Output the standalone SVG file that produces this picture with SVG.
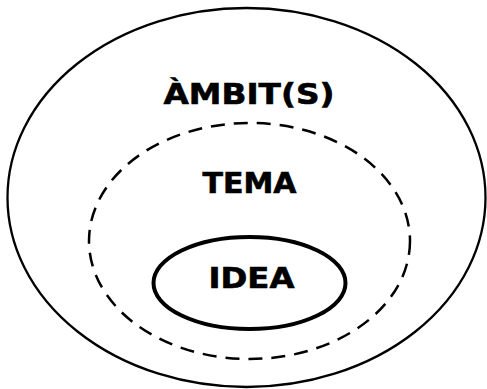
<svg xmlns="http://www.w3.org/2000/svg" width="487" height="389" viewBox="0 0 487 389">
<style>
.e{fill:none;stroke:#000}
.t{font-family:"DejaVu Sans","Verdana",sans-serif;font-weight:bold;font-size:29px;fill:#000;text-anchor:middle;stroke:#000;stroke-width:0.6}
</style>
<rect width="487" height="389" fill="#fff"/>
<g id="ambits">
<ellipse class="e" cx="246.5" cy="197.5" rx="239" ry="189.5" stroke-width="2.3"/>
<text class="t" x="249" y="104" textLength="171" lengthAdjust="spacingAndGlyphs">ÀMBIT(S)</text>
</g>
<g id="tema">
<ellipse class="e" cx="249.5" cy="241" rx="160.5" ry="118" stroke-width="2.5" stroke-dasharray="14 9"/>
<text class="t" x="249.5" y="193" textLength="94" lengthAdjust="spacingAndGlyphs">TEMA</text>
</g>
<g id="idea">
<ellipse class="e" cx="249.5" cy="283" rx="96" ry="46" stroke-width="4"/>
<text class="t" x="251.5" y="288" textLength="86" lengthAdjust="spacingAndGlyphs">IDEA</text>
</g>
<g id="connectors"/>
</svg>
